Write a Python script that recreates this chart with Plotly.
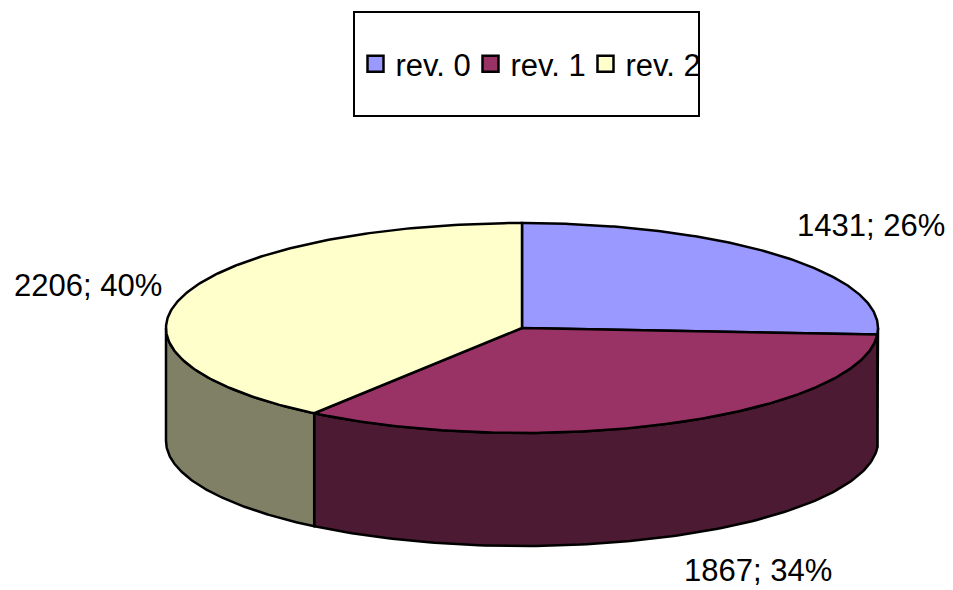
import numpy as np
import plotly.graph_objects as go

# ---- data ----
categories = ["rev. 0", "rev. 1", "rev. 2"]
values = [1431, 1867, 2206]
top_colors = ["#9999FF", "#993366", "#FFFFCC"]
side_colors = ["#4C4C80", "#4D1A33", "#808066"]
label_pos = [(871, 225), (758, 570), (88, 285)]  # label anchors (pixels)

# ---- geometry (layout, pixel units) ----
W, H = 953, 590
CX, CY = 522, 328
RX, RY = 356, 105
DEPTH = 113
FONT = "Arial, Liberation Sans, sans-serif"

total = sum(values)
fracs = [v / total for v in values]
starts = np.cumsum([0] + fracs[:-1]) * 360
ends = starts + np.array(fracs) * 360


def pt(theta_deg, dy=0.0):
    t = np.radians(theta_deg)
    return CX + RX * np.sin(t), CY - RY * np.cos(t) + dy


fig = go.Figure()

# side faces (visible front half: 90..270 deg clockwise from top)
for i in range(len(values)):
    a = max(starts[i], 90.0)
    b = min(ends[i], 270.0)
    if a >= b:
        continue
    th = np.linspace(a, b, 120)
    xt, yt = pt(th)
    xb, yb = pt(th[::-1], DEPTH)
    xs = np.concatenate([xt, xb, xt[:1]])
    ys = np.concatenate([yt, yb, yt[:1]])
    fig.add_trace(go.Scatter(
        x=xs, y=ys, mode="lines", fill="toself",
        fillcolor=side_colors[i],
        line=dict(color="black", width=2.5),
        hoverinfo="skip", showlegend=False))

# top faces
for i in range(len(values)):
    th = np.linspace(starts[i], ends[i], 200)
    xa, ya = pt(th)
    xs = np.concatenate([[CX], xa, [CX]])
    ys = np.concatenate([[CY], ya, [CY]])
    fig.add_trace(go.Scatter(
        x=xs, y=ys, mode="lines", fill="toself",
        fillcolor=top_colors[i],
        line=dict(color="black", width=2.5),
        hoverinfo="skip", showlegend=False))

# legend entries
for i, cat in enumerate(categories):
    fig.add_trace(go.Scatter(
        x=[None], y=[None], mode="markers", name=cat,
        marker=dict(symbol="square", size=16, color=top_colors[i],
                    line=dict(color="black", width=2.5))))

# labels
for i, v in enumerate(values):
    pct = round(100 * v / total)
    lx, ly = label_pos[i]
    fig.add_annotation(x=lx, y=ly, xref="x", yref="y",
                       text=f"{v}; {pct}%", showarrow=False,
                       font=dict(size=31, color="black", family=FONT))

# legend frame
fig.add_shape(type="rect", xref="x", yref="y", x0=354, x1=699, y0=12, y1=116,
              line=dict(color="black", width=2), fillcolor="rgba(0,0,0,0)")

fig.update_layout(
    width=W, height=H,
    margin=dict(l=0, r=0, t=0, b=0),
    paper_bgcolor="white", plot_bgcolor="white",
    xaxis=dict(range=[0, W], visible=False, fixedrange=True),
    yaxis=dict(range=[H, 0], visible=False, fixedrange=True),
    showlegend=True,
    legend=dict(orientation="h", x=528 / W, y=1 - 64 / H,
                xanchor="center", yanchor="middle",
                entrywidth=70,
                bgcolor="rgba(0,0,0,0)", borderwidth=0,
                itemclick=False, itemdoubleclick=False,
                font=dict(size=31, color="black", family=FONT)),
    hovermode=False,
)

fig.write_html("out.html", config={"displayModeBar": False},
               post_script="document.body.style.margin='0';")
